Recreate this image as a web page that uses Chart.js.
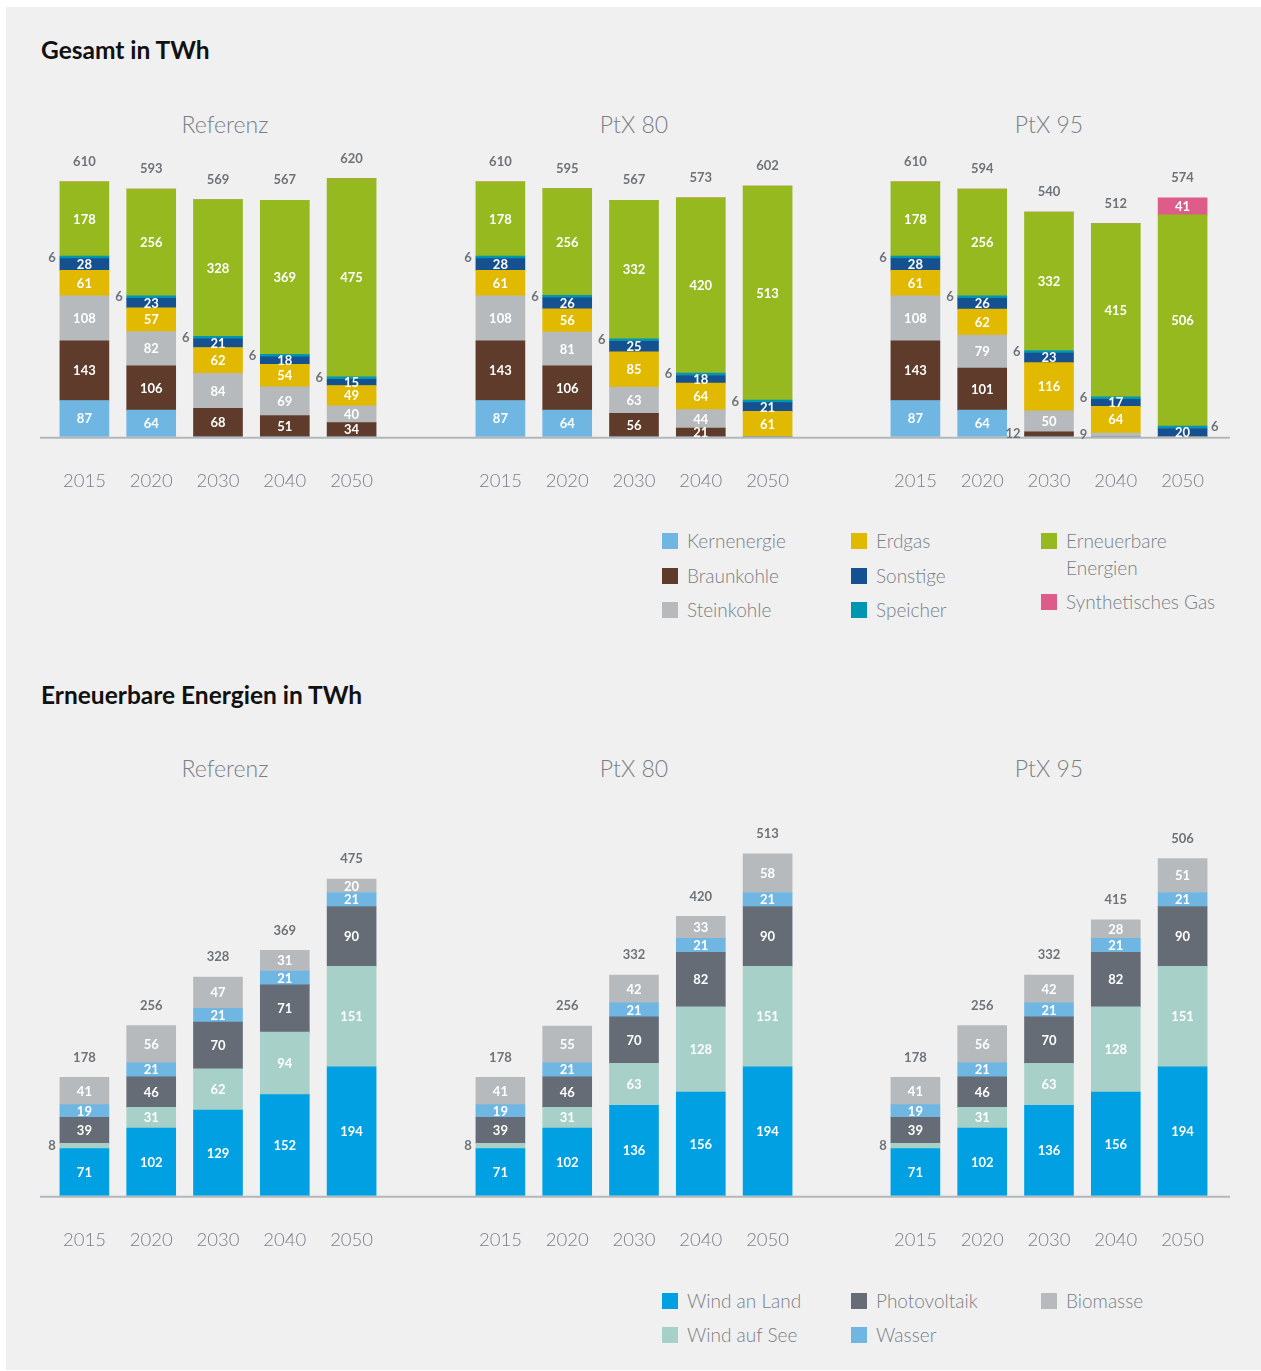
<!DOCTYPE html>
<html>
<head>
<meta charset="utf-8">
<script src="https://cdn.jsdelivr.net/npm/chart.js@4/dist/chart.umd.min.js"></script>
<style>
  body { margin: 0; background: #ffffff; font-family: Lato, "Open Sans", sans-serif; }
  #page { position: absolute; left: 6px; top: 7px; width: 1255px; height: 1363px; background: #f0f0f0; }
  .title { position: absolute; left: 41px; font-size: 24.5px; font-weight: 700; color: #111; }
  .panel { position: absolute; width: 300px; text-align: center; font-size: 23px; font-weight: 300; color: #7a7f86; }
  canvas { position: absolute; }
  .legend { position: absolute; font-size: 19px; font-weight: 300; color: #7a7f86; }
  .legend div { position: absolute; white-space: nowrap; line-height: 27px; }
  .legend span { position: absolute; left: -25px; top: 6px; width: 16px; height: 16px; }
</style>
</head>
<body>
<div id="page"></div>
<div class="title" style="top:35px">Gesamt in TWh</div>
<div class="panel" style="left:75px;top:110px">Referenz</div>
<div class="panel" style="left:484px;top:110px">PtX 80</div>
<div class="panel" style="left:899px;top:110px">PtX 95</div>
<canvas id="g0" style="left:40px;top:140px" width="415" height="370"></canvas>
<canvas id="g1" style="left:455px;top:140px" width="415" height="370"></canvas>
<canvas id="g2" style="left:870px;top:140px" width="360" height="370"></canvas>
<div class="legend" id="legTop"></div>

<div class="title" style="top:680px">Erneuerbare Energien in TWh</div>
<div class="panel" style="left:75px;top:754px">Referenz</div>
<div class="panel" style="left:484px;top:754px">PtX 80</div>
<div class="panel" style="left:899px;top:754px">PtX 95</div>
<canvas id="e0" style="left:40px;top:800px" width="415" height="469"></canvas>
<canvas id="e1" style="left:455px;top:800px" width="415" height="469"></canvas>
<canvas id="e2" style="left:870px;top:800px" width="360" height="469"></canvas>
<div class="legend" id="legBottom"></div>

<script>
// categories
const years = ['2015', '2020', '2030', '2040', '2050'];
const scenarios = ['Referenz', 'PtX 80', 'PtX 95'];

// Gesamt in TWh, one row per scenario (Referenz, PtX 80, PtX 95)
const kernenergie = [[87, 64, 0, 0, 0], [87, 64, 0, 0, 0], [87, 64, 0, 0, 0]];
const braunkohle  = [[143, 106, 68, 51, 34], [143, 106, 56, 21, 0], [143, 101, 12, 0, 0]];
const steinkohle  = [[108, 82, 84, 69, 40], [108, 81, 63, 44, 0], [108, 79, 50, 9, 0]];
const erdgas      = [[61, 57, 62, 54, 49], [61, 56, 85, 64, 61], [61, 62, 116, 64, 0]];
const sonstige    = [[28, 23, 21, 18, 15], [28, 26, 25, 18, 21], [28, 26, 23, 17, 20]];
const speicher    = [[6, 6, 6, 6, 6], [6, 6, 6, 6, 6], [6, 6, 6, 6, 6]];
const erneuerbare = [[178, 256, 328, 369, 475], [178, 256, 332, 420, 513], [178, 256, 332, 415, 506]];
const synthGas    = [[0, 0, 0, 0, 0], [0, 0, 0, 0, 0], [0, 0, 0, 0, 41]];
const gesamtTotal = [[610, 593, 569, 567, 620], [610, 595, 567, 573, 602], [610, 594, 540, 512, 574]];

// Erneuerbare Energien in TWh
const windLand    = [[71, 102, 129, 152, 194], [71, 102, 136, 156, 194], [71, 102, 136, 156, 194]];
const windSee     = [[8, 31, 62, 94, 151], [8, 31, 63, 128, 151], [8, 31, 63, 128, 151]];
const photovolt   = [[39, 46, 70, 71, 90], [39, 46, 70, 82, 90], [39, 46, 70, 82, 90]];
const wasser      = [[19, 21, 21, 21, 21], [19, 21, 21, 21, 21], [19, 21, 21, 21, 21]];
const biomasse    = [[41, 56, 47, 31, 20], [41, 55, 42, 33, 58], [41, 56, 42, 28, 51]];
const eeTotal     = [[178, 256, 328, 369, 475], [178, 256, 332, 420, 513], [178, 256, 332, 415, 506]];

const topSeries = [
  { label: 'Kernenergie', data: kernenergie, color: '#6fb6e2' },
  { label: 'Braunkohle', data: braunkohle, color: '#5e3b2a' },
  { label: 'Steinkohle', data: steinkohle, color: '#b7babd' },
  { label: 'Erdgas', data: erdgas, color: '#e1b900' },
  { label: 'Sonstige', data: sonstige, color: '#155091' },
  { label: 'Speicher', data: speicher, color: '#0096b1' },
  { label: 'Erneuerbare Energien', data: erneuerbare, color: '#95b91e' },
  { label: 'Synthetisches Gas', data: synthGas, color: '#dd5c89' }
];
const eeSeries = [
  { label: 'Wind an Land', data: windLand, color: '#00a0e2' },
  { label: 'Wind auf See', data: windSee, color: '#a6d0c8' },
  { label: 'Photovoltaik', data: photovolt, color: '#656c76' },
  { label: 'Wasser', data: wasser, color: '#6fb6e2' },
  { label: 'Biomasse', data: biomasse, color: '#b7babd' }
];

const greyText = '#6e7378';
const labelFont = 'bold 13px Lato, "Open Sans", sans-serif';

// draws values inside segments, small values beside, totals on top and the baseline
const labelPlugin = {
  id: 'segLabels',
  afterDatasetsDraw(chart, args, opts) {
    const ctx = chart.ctx;
    const yScale = chart.scales.y;
    const base = yScale.getPixelForValue(0);
    ctx.save();
    ctx.strokeStyle = '#b4b7ba';
    ctx.lineWidth = 2;
    ctx.beginPath();
    ctx.moveTo(0, base + 1);
    ctx.lineTo(chart.width, base + 1);
    ctx.stroke();

    ctx.font = labelFont;
    ctx.textBaseline = 'middle';
    const tops = {};
    chart.data.datasets.forEach((ds, di) => {
      const meta = chart.getDatasetMeta(di);
      meta.data.forEach((bar, i) => {
        const v = ds.data[i];
        if (!v) return;
        tops[i] = Math.min(tops[i] === undefined ? Infinity : tops[i], bar.y);
        const cy = (bar.y + bar.base) / 2;
        if (v >= 15) {
          ctx.fillStyle = '#ffffff';
          ctx.textAlign = 'center';
          ctx.fillText(String(v), bar.x, cy + 0.5);
        } else {
          ctx.fillStyle = greyText;
          const right = opts.rightSide === i;
          ctx.textAlign = right ? 'left' : 'right';
          const off = bar.width / 2 + 4;
          ctx.fillText(String(v), right ? bar.x + off : bar.x - off, cy);
        }
      });
    });
    ctx.fillStyle = greyText;
    ctx.textAlign = 'center';
    opts.totals.forEach((t, i) => {
      const bar = chart.getDatasetMeta(0).data[i];
      ctx.fillText(String(t), bar.x, tops[i] - 20);
    });
    ctx.restore();
  }
};

function makeChart(id, series, s, totals, max, padTop, padL, padR, rightSide) {
  return new Chart(document.getElementById(id), {
    type: 'bar',
    data: {
      labels: years,
      datasets: series.map(se => ({
        label: se.label,
        data: se.data[s],
        backgroundColor: se.color,
        barThickness: 49,
        borderWidth: 0
      }))
    },
    options: {
      responsive: false,
      animation: false,
      layout: { padding: { top: padTop, left: padL, right: padR, bottom: 16 } },
      plugins: {
        legend: { display: false },
        tooltip: { enabled: false },
        segLabels: { totals: totals[s], rightSide: rightSide }
      },
      scales: {
        x: {
          stacked: true,
          grid: { display: false, drawTicks: true, tickLength: 31 },
          border: { display: false },
          ticks: {
            color: '#7a7f86',
            padding: 2,
            font: { family: 'Lato, "Open Sans", sans-serif', size: 18.5, weight: 300 }
          }
        },
        y: { stacked: true, display: false, min: 0, max: max }
      }
    },
    plugins: [labelPlugin]
  });
}

const pads = [[11, 70], [12, 69], [12, 14]];
for (let s = 0; s < 3; s++) {
  makeChart('g' + s, topSeries, s, gesamtTotal, 690, 9, pads[s][0], pads[s][1], s === 2 ? 4 : undefined);
  makeChart('e' + s, eeSeries, s, eeTotal, 565, 20, pads[s][0], pads[s][1]);
}

// legends as html, three columns
function buildLegend(el, items, top) {
  const cols = [687, 876, 1066];
  const node = document.getElementById(el);
  items.forEach(it => {
    const d = document.createElement('div');
    d.style.left = cols[it.col] + 'px';
    d.style.top = (top + it.row) + 'px';
    d.innerHTML = '<span style="background:' + it.color + '"></span>' + it.text;
    node.appendChild(d);
  });
}
buildLegend('legTop', [
  { text: 'Kernenergie', color: topSeries[0].color, col: 0, row: 0 },
  { text: 'Braunkohle', color: topSeries[1].color, col: 0, row: 35 },
  { text: 'Steinkohle', color: topSeries[2].color, col: 0, row: 69 },
  { text: 'Erdgas', color: topSeries[3].color, col: 1, row: 0 },
  { text: 'Sonstige', color: topSeries[4].color, col: 1, row: 35 },
  { text: 'Speicher', color: topSeries[5].color, col: 1, row: 69 },
  { text: 'Erneuerbare<br>Energien', color: topSeries[6].color, col: 2, row: 0 },
  { text: 'Synthetisches Gas', color: topSeries[7].color, col: 2, row: 61 }
], 527);
buildLegend('legBottom', [
  { text: 'Wind an Land', color: eeSeries[0].color, col: 0, row: 0 },
  { text: 'Wind auf See', color: eeSeries[1].color, col: 0, row: 34 },
  { text: 'Photovoltaik', color: eeSeries[2].color, col: 1, row: 0 },
  { text: 'Wasser', color: eeSeries[3].color, col: 1, row: 34 },
  { text: 'Biomasse', color: eeSeries[4].color, col: 2, row: 0 }
], 1287);
</script>
</body>
</html>
